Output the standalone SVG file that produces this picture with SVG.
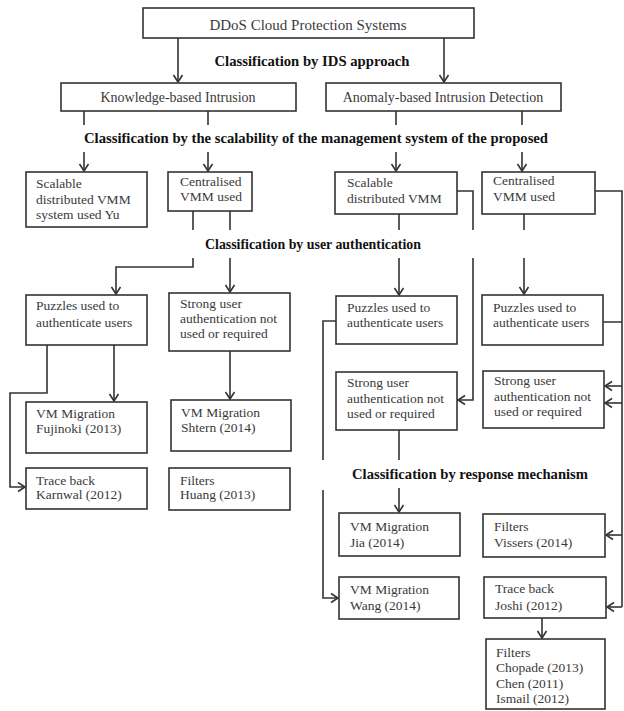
<svg xmlns="http://www.w3.org/2000/svg" width="624" height="711" viewBox="0 0 624 711">
<style>
.box{fill:#fff;stroke:#333;stroke-width:1.6}
.t{font-family:"Liberation Serif","Times New Roman",serif;font-size:13.5px;fill:#3a3a3a}
.h{font-family:"Liberation Serif","Times New Roman",serif;font-size:14px;font-weight:bold;fill:#111}
.c{fill:none;stroke:#333;stroke-width:1.6}
.a{marker-end:url(#ah)}
</style>
<defs>
<marker id="ah" markerUnits="userSpaceOnUse" markerWidth="12" markerHeight="12" refX="8" refY="6" orient="auto">
<path d="M1,1.5 L8,6 L1,10.5" fill="none" stroke="#333" stroke-width="1.6"/>
</marker>
</defs>
<rect width="624" height="711" fill="#fff"/>

<g id="headings">
<text class="h" x="312" y="66" text-anchor="middle" textLength="195" lengthAdjust="spacingAndGlyphs">Classification by IDS approach</text>
<text class="h" x="316" y="143" text-anchor="middle" textLength="464" lengthAdjust="spacingAndGlyphs">Classification by the scalability of the management system of the proposed</text>
<text class="h" x="313" y="249" text-anchor="middle" textLength="216" lengthAdjust="spacingAndGlyphs">Classification by user authentication</text>
<text class="h" x="470" y="479" text-anchor="middle" textLength="236" lengthAdjust="spacingAndGlyphs">Classification by response mechanism</text>
</g>

<g id="connectors">
<path class="c a" d="M178,38 V82"/>
<path class="c a" d="M444,38 V82"/>
<path class="c" d="M84,111 V125 M208,111 V125 M396,111 V125 M522,111 V125"/>
<path class="c a" d="M84,152 V171"/>
<path class="c a" d="M208,152 V171"/>
<path class="c a" d="M396,152 V171"/>
<path class="c a" d="M522,152 V171"/>
<path class="c" d="M193,211 V230 M230,211 V230"/>
<path class="c a" d="M193,258 V267 H116 V294"/>
<path class="c a" d="M230,258 V292"/>
<path class="c" d="M399,214 V230"/>
<path class="c a" d="M399,258 V295"/>
<path class="c" d="M457,191 H473 V230"/>
<path class="c a" d="M473,258 V400 H458"/>
<path class="c" d="M524,214 V230"/>
<path class="c a" d="M524,258 V294"/>
<path class="c" d="M595,191 H622 V607 M603,322 H622"/>
<path class="c a" d="M622,386 H605"/>
<path class="c a" d="M622,403 H605"/>
<path class="c a" d="M622,535 H606"/>
<path class="c a" d="M622,607 H607"/>
<path class="c" d="M336,321 H323 V460"/>
<path class="c a" d="M323,490 V598 H338"/>
<path class="c" d="M399,430 V460"/>
<path class="c a" d="M399,488 V512"/>
<path class="c a" d="M47,345 V393 H10 V487 H25"/>
<path class="c a" d="M114,345 V401"/>
<path class="c a" d="M230,351 V399"/>
<path class="c a" d="M542,618 V638"/>
</g>

<g id="n_root"><rect class="box" x="143" y="8" width="331" height="30"/>
<text class="t" x="308" y="30" text-anchor="middle" style="font-size:15px">DDoS Cloud Protection Systems</text></g>

<g id="n_knowledge"><rect class="box" x="61" y="83" width="235" height="28"/>
<text class="t" x="178" y="102" text-anchor="middle" style="font-size:14px">Knowledge-based Intrusion</text></g>

<g id="n_anomaly"><rect class="box" x="326" y="83" width="235" height="28"/>
<text class="t" x="443" y="102" text-anchor="middle" style="font-size:14px">Anomaly-based Intrusion Detection</text></g>

<g id="n_k_scalable"><rect class="box" x="26" y="172" width="121" height="55"/>
<text class="t" x="36" y="188">Scalable</text><text class="t" x="36" y="204">distributed VMM</text><text class="t" x="36" y="219">system used Yu</text></g>

<g id="n_k_central"><rect class="box" x="168" y="172" width="84" height="39"/>
<text class="t" x="180" y="186">Centralised</text><text class="t" x="180" y="201">VMM used</text></g>

<g id="n_a_scalable"><rect class="box" x="335" y="172" width="122" height="42"/>
<text class="t" x="347" y="187">Scalable</text><text class="t" x="347" y="203">distributed VMM</text></g>

<g id="n_a_central"><rect class="box" x="482" y="172" width="113" height="42"/>
<text class="t" x="493" y="185">Centralised</text><text class="t" x="493" y="201">VMM used</text></g>

<g id="n_kc_puzzles"><rect class="box" x="26" y="295" width="121" height="50"/>
<text class="t" x="36" y="310">Puzzles used to</text><text class="t" x="36" y="327">authenticate users</text></g>

<g id="n_kc_strong"><rect class="box" x="169" y="293" width="121" height="58"/>
<text class="t" x="180" y="308">Strong user</text><text class="t" x="180" y="323">authentication not</text><text class="t" x="180" y="338">used or required</text></g>

<g id="n_as_puzzles"><rect class="box" x="336" y="296" width="121" height="48"/>
<text class="t" x="347" y="312">Puzzles used to</text><text class="t" x="347" y="327">authenticate users</text></g>

<g id="n_ac_puzzles"><rect class="box" x="482" y="295" width="121" height="50"/>
<text class="t" x="493" y="312">Puzzles used to</text><text class="t" x="493" y="327">authenticate users</text></g>

<g id="n_as_strong"><rect class="box" x="336" y="372" width="121" height="58"/>
<text class="t" x="347" y="387">Strong user</text><text class="t" x="347" y="403">authentication not</text><text class="t" x="347" y="418">used or required</text></g>

<g id="n_ac_strong"><rect class="box" x="483" y="371" width="121" height="57"/>
<text class="t" x="494" y="385">Strong user</text><text class="t" x="494" y="401">authentication not</text><text class="t" x="494" y="416">used or required</text></g>

<g id="n_fujinoki"><rect class="box" x="26" y="402" width="121" height="51"/>
<text class="t" x="36" y="418">VM Migration</text><text class="t" x="36" y="433">Fujinoki (2013)</text></g>

<g id="n_shtern"><rect class="box" x="171" y="400" width="120" height="51"/>
<text class="t" x="181" y="417">VM Migration</text><text class="t" x="181" y="432">Shtern (2014)</text></g>

<g id="n_karnwal"><rect class="box" x="26" y="468" width="121" height="41"/>
<text class="t" x="36" y="485">Trace back</text><text class="t" x="36" y="499">Karnwal (2012)</text></g>

<g id="n_huang"><rect class="box" x="169" y="468" width="121" height="42"/>
<text class="t" x="180" y="485">Filters</text><text class="t" x="180" y="499">Huang (2013)</text></g>

<g id="n_jia"><rect class="box" x="339" y="513" width="121" height="43"/>
<text class="t" x="350" y="531">VM Migration</text><text class="t" x="350" y="547">Jia (2014)</text></g>

<g id="n_wang"><rect class="box" x="339" y="577" width="120" height="42"/>
<text class="t" x="350" y="594">VM Migration</text><text class="t" x="350" y="610">Wang (2014)</text></g>

<g id="n_vissers"><rect class="box" x="483" y="514" width="122" height="43"/>
<text class="t" x="494" y="531">Filters</text><text class="t" x="494" y="547">Vissers (2014)</text></g>

<g id="n_joshi"><rect class="box" x="484" y="577" width="122" height="41"/>
<text class="t" x="495" y="593">Trace back</text><text class="t" x="495" y="610">Joshi (2012)</text></g>

<g id="n_chopade"><rect class="box" x="486" y="639" width="119" height="70"/>
<text class="t" x="496" y="657">Filters</text><text class="t" x="496" y="672">Chopade (2013)</text><text class="t" x="496" y="688">Chen (2011)</text><text class="t" x="496" y="703">Ismail (2012)</text></g>
</svg>
